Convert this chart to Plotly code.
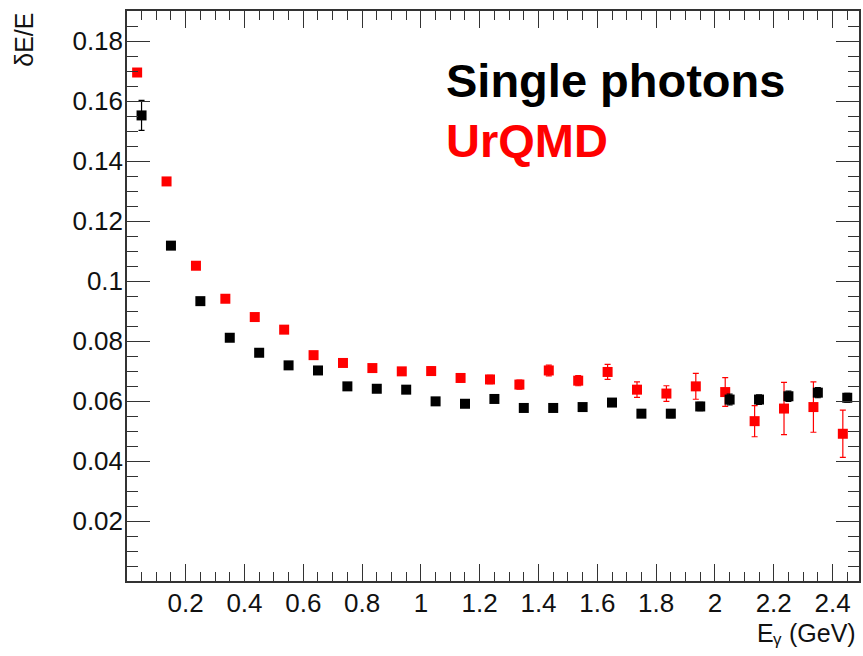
import plotly.graph_objects as go

# Data
black_x = [0.05, 0.15, 0.25, 0.35, 0.45, 0.55, 0.65, 0.75, 0.85, 0.95, 1.05, 1.15, 1.25,
           1.35, 1.45, 1.55, 1.65, 1.75, 1.85, 1.95, 2.05, 2.15, 2.25, 2.35, 2.45]
black_y = [0.1552, 0.1118, 0.0933, 0.0811, 0.0761, 0.0719, 0.0702, 0.0649, 0.0641, 0.0638,
           0.0599, 0.0591, 0.0607, 0.0577, 0.0577, 0.0580, 0.0595, 0.0558, 0.0558, 0.0582,
           0.0605, 0.0605, 0.0616, 0.0628, 0.0611]
black_err = [0.005, 0.0012, 0.001, 0.0008, 0.0008, 0.0008, 0.0008, 0.0008, 0.0008, 0.0009,
             0.0009, 0.0009, 0.001, 0.001, 0.001, 0.0011, 0.0011, 0.0012, 0.0013, 0.0014,
             0.0018, 0.0016, 0.0017, 0.0017, 0.0015]

red_x = [0.035, 0.135, 0.235, 0.335, 0.435, 0.535, 0.635, 0.735, 0.835, 0.935, 1.035, 1.135,
         1.235, 1.335, 1.435, 1.535, 1.635, 1.735, 1.835, 1.935, 2.035, 2.135, 2.235, 2.335, 2.435]
red_y = [0.1695, 0.1332, 0.1051, 0.0941, 0.0880, 0.0838, 0.0753, 0.0727, 0.0710, 0.0699,
         0.0700, 0.0677, 0.0672, 0.0655, 0.0702, 0.0668, 0.0697, 0.0638, 0.0625, 0.0649,
         0.0630, 0.0533, 0.0575, 0.0580, 0.0491]
red_err = [0.0005, 0.0005, 0.0006, 0.0007, 0.0008, 0.0009, 0.001, 0.001, 0.0011, 0.0012,
           0.0013, 0.0013, 0.0014, 0.0015, 0.0018, 0.0017, 0.0025, 0.0026, 0.0026, 0.0043,
           0.0048, 0.0052, 0.0087, 0.0084, 0.0079]

# axis ranges / tick spacing (labels: 0.2 ... 2.4 and 0.02 ... 0.18, no "0" label)
x_range = [0.0005, 2.49]
y_range = [0.00003, 0.19]
x_major, x_minor = 0.2, 0.05
y_major, y_minor = 0.02, 0.005

FONT = "Liberation Sans, Arial, Helvetica, sans-serif"
AX = "#333333"

fig = go.Figure()
fig.add_trace(go.Scatter(
    x=red_x, y=red_y, mode="markers",
    marker=dict(symbol="square", size=10, color="#ff0000"),
    error_y=dict(type="data", array=red_err, color="#ff0000", thickness=1.2, width=3),
    showlegend=False))
fig.add_trace(go.Scatter(
    x=black_x, y=black_y, mode="markers",
    marker=dict(symbol="square", size=10, color="#000000"),
    error_y=dict(type="data", array=black_err, color="#000000", thickness=1.2, width=3),
    showlegend=False))
# invisible helper trace that carries the tick-only overlay axes
fig.add_trace(go.Scatter(
    x=black_x, y=black_y, xaxis="x2", yaxis="y2", mode="markers",
    marker=dict(opacity=0), hoverinfo="skip", showlegend=False))

fig.update_layout(
    width=863, height=656,
    margin=dict(l=127, r=2, t=11, b=75),
    paper_bgcolor="white", plot_bgcolor="white",
    font=dict(family=FONT, size=12),
    # label axes (no ticks drawn here)
    xaxis=dict(range=x_range, tickmode="linear", tick0=0, dtick=x_major,
               showgrid=False, zeroline=False, showline=True, linecolor=AX, linewidth=1.5,
               mirror=True, ticks="",
               tickfont=dict(size=26, family=FONT, color="#111111")),
    yaxis=dict(range=y_range, tickmode="linear", tick0=0, dtick=y_major,
               showgrid=False, zeroline=False, showline=True, linecolor=AX, linewidth=1.5,
               mirror=True, ticks="",
               tickfont=dict(size=26, family=FONT, color="#111111")),
    # tick-only overlay axes
    xaxis2=dict(overlaying="x", anchor="y2", side="bottom", range=x_range,
                tickmode="linear", tick0=0, dtick=x_major, showticklabels=False,
                showgrid=False, zeroline=False, showline=False,
                mirror="allticks", ticks="inside", ticklen=17, tickcolor=AX, tickwidth=1,
                minor=dict(ticks="inside", ticklen=9, dtick=x_minor, tickcolor=AX, tickwidth=1)),
    yaxis2=dict(overlaying="y", anchor="x2", side="left", range=y_range,
                tickmode="linear", tick0=0, dtick=y_major, showticklabels=False,
                showgrid=False, zeroline=False, showline=False,
                mirror="allticks", ticks="inside", ticklen=23, tickcolor=AX, tickwidth=1,
                minor=dict(ticks="inside", ticklen=11, dtick=y_minor, tickcolor=AX, tickwidth=1)),
)
# pull tick labels a little closer to the axes (if the installed plotly accepts it)
try:
    fig.update_layout(xaxis_ticklabelstandoff=-2, yaxis_ticklabelstandoff=-3)
except Exception:
    pass

# axis titles, ROOT style (y title at top, x title at right end); plain text, no markup
fig.add_annotation(text="δE/E", textangle=-90, xref="paper", yref="paper",
                   x=-0.141, y=1.0, xanchor="center", yanchor="top", showarrow=False,
                   font=dict(size=25, family=FONT, color="#111111"))
fig.add_annotation(text="(GeV)", xref="paper", yref="paper",
                   x=0.9986, y=-0.063, xanchor="right", yanchor="top", showarrow=False,
                   font=dict(size=25, family=FONT, color="#111111"))
fig.add_annotation(text="γ", xref="paper", yref="paper",
                   x=0.8978, y=-0.0825, xanchor="right", yanchor="top", showarrow=False,
                   font=dict(size=17, family=FONT, color="#111111"))
fig.add_annotation(text="E", xref="paper", yref="paper",
                   x=0.886, y=-0.063, xanchor="right", yanchor="top", showarrow=False,
                   font=dict(size=25, family=FONT, color="#111111"))

fig.add_annotation(text="Single photons", xref="paper", yref="paper",
                   x=0.433, y=0.878, xanchor="left", yanchor="middle", showarrow=False,
                   font=dict(size=47, family=FONT, color="#000000", weight="bold"))
fig.add_annotation(text="UrQMD", xref="paper", yref="paper",
                   x=0.433, y=0.773, xanchor="left", yanchor="middle", showarrow=False,
                   font=dict(size=47, family=FONT, color="#ff0000", weight="bold"))

fig.write_html("out.html")
